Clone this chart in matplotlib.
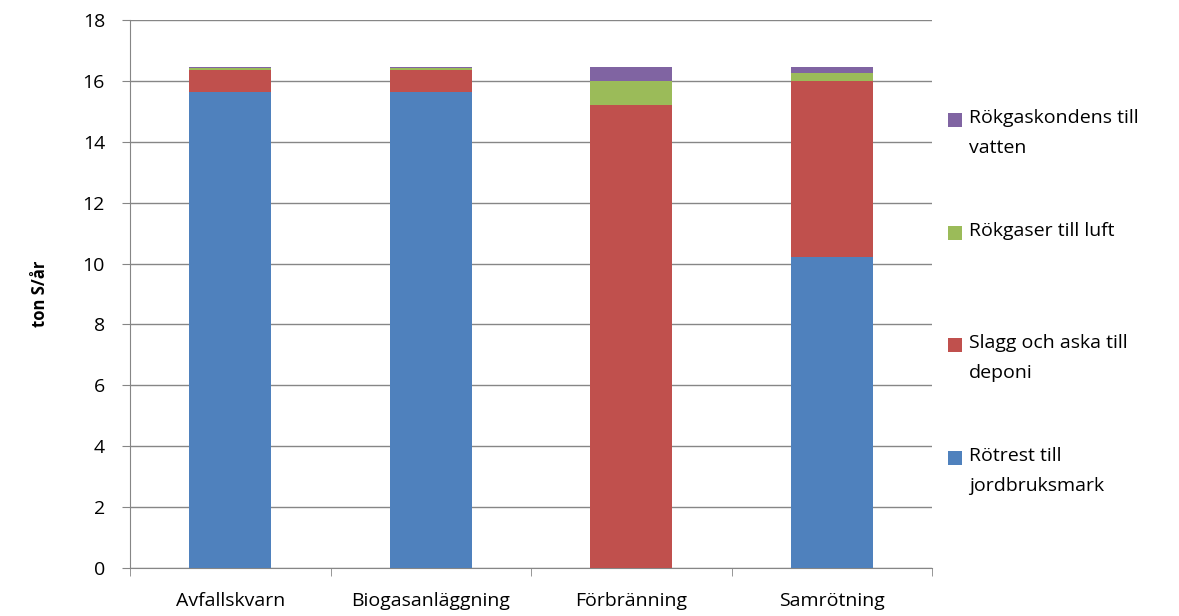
import numpy as np
import matplotlib.pyplot as plt
from matplotlib.patches import Rectangle

plt.rcParams["font.family"] = ["Open Sans", "DejaVu Sans"]

categories = ["Avfallskvarn", "Biogasanläggning", "Förbränning", "Samrötning"]
rotrest = [15.64, 15.64, 0.0, 10.2]
slagg = [0.73, 0.73, 15.21, 5.78]
rokgaser = [0.05, 0.05, 0.78, 0.29]
kondens = [0.03, 0.03, 0.46, 0.18]

series = [
    ("Rötrest till\njordbruksmark", rotrest, "#4f81bd"),
    ("Slagg och aska till\ndeponi", slagg, "#c0504d"),
    ("Rökgaser till luft", rokgaser, "#9bbb59"),
    ("Rökgaskondens till\nvatten", kondens, "#8064a2"),
]

W, H = 1179, 616
fig = plt.figure(figsize=(W / 100, H / 100), dpi=100)
ax = fig.add_axes([130 / W, 48 / H, 802 / W, 548 / H])

x = np.arange(len(categories))
bottom = np.zeros(len(categories))
for label, vals, color in series:
    ax.bar(x, vals, width=0.41, bottom=bottom, color=color, zorder=3)
    bottom += np.array(vals)

ax.set_xlim(-0.5, len(categories) - 0.5)
ax.set_ylim(0, 18)
ax.set_yticks(range(0, 19, 2))
ax.yaxis.grid(True, color="#868686", linewidth=1, zorder=0)
ax.set_xticks(x)
ax.set_xticklabels(categories, fontsize=14)
ax.tick_params(axis="x", length=0, pad=17)
ax.set_xticks(np.arange(-0.5, len(categories), 1), minor=True)
ax.tick_params(axis="x", which="minor", length=6, color="#868686")
ax.tick_params(axis="y", labelsize=14, length=6, pad=12, color="#868686", direction="out")
for side in ["top", "right"]:
    ax.spines[side].set_visible(False)
for side in ["left", "bottom"]:
    ax.spines[side].set_color("#868686")
ax.set_ylabel("ton S/år", fontsize=12, fontweight="bold", labelpad=24)

# legend entries, top to bottom, square aligned with the first text line
legend_rows = [120, 233, 345, 458]
for (label, _, color), y in zip(series[::-1], legend_rows):
    fig.patches.append(Rectangle((948 / W, 1 - (y + 7) / H), 14 / W, 14 / H,
                                 transform=fig.transFigure, facecolor=color,
                                 edgecolor="none"))
    fig.text(969 / W, 1 - (y - 11) / H, label, fontsize=14, va="top",
             ha="left", linespacing=1.85)

fig.savefig("out.png", dpi=100)
